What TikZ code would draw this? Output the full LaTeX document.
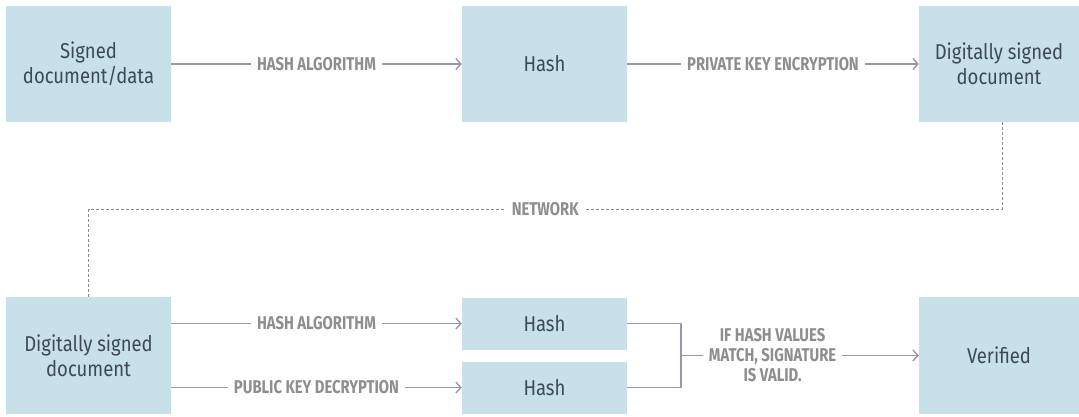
\documentclass[tikz,border=0pt]{standalone}
\usepackage{fontspec}
\setmainfont{Fira Sans}
\newfontfamily\boxfont[FakeStretch=0.86]{Fira Sans}
\newfontfamily\lblfont[FakeStretch=0.8]{Fira Sans}
\usetikzlibrary{arrows.meta}
\definecolor{boxblue}{HTML}{C8E0EA}
\definecolor{boxtext}{HTML}{3E4A52}
\definecolor{linkcol}{HTML}{9D93AC}
\definecolor{lblgray}{HTML}{8E8E8E}
\definecolor{netgray}{HTML}{8E8A96}
\begin{document}
\begin{tikzpicture}[x=1pt,y=-1pt,line join=round,line cap=butt,
	>={Straight Barb[length=5pt,width=11pt,line width=1.4pt]},
	blk/.style={fill=boxblue,text=boxtext,font=\boxfont\fontsize{21.5}{25}\selectfont,align=center,inner sep=0pt,minimum width=165pt,minimum height=116pt},
	lbl/.style={fill=white,text=lblgray,font=\lblfont\bfseries\fontsize{18.5}{20}\selectfont,align=center,inner xsep=6pt,inner ysep=1pt},
	link/.style={draw=linkcol,line width=1.8pt},
	netline/.style={draw=netgray,line width=0.8pt,dash pattern=on 3pt off 2pt}]
	\useasboundingbox (0,0) rectangle (1079,417);
	% sender
	\node[blk] (src) at (88.5,64) {Signed\\document/data};
	\node[blk] (hashA) at (544.5,64) {Hash};
	\node[blk,minimum width=160pt] (sent) at (999,64) {Digitally signed\\document};
	% receiver
	\node[blk,minimum height=117pt] (recv) at (88.5,355.5) {Digitally signed\\document};
	\node[blk,minimum height=52pt] (hashB) at (544.5,323.5) {Hash};
	\node[blk,minimum height=52pt] (hashC) at (544.5,387.5) {Hash};
	\node[blk,minimum width=160pt,minimum height=117pt] (ok) at (999,355.5) {Verified};
	\coordinate (netR) at (1002,209);
	\coordinate (jn) at (681,355.5);
	\draw[link,->] (src) -- node[lbl] {HASH ALGORITHM} (hashA);
	\draw[link,->] (hashA) -- node[lbl] {PRIVATE KEY ENCRYPTION} (sent);
	\draw[netline] (sent.south -| netR) -- (netR) -| node[pos=0.25,lbl] {NETWORK} (recv.north);
	\draw[link,->] (recv.east |- hashB) -- node[lbl] {HASH ALGORITHM} (hashB);
	\draw[link,->] (recv.east |- hashC) -- node[lbl] {PUBLIC KEY DECRYPTION} (hashC);
	\draw[link] (hashB.east) -| (jn) |- (hashC.east);
	\draw[link,->] (jn) -- node[pos=0.385,lbl] {IF HASH VALUES\\MATCH, SIGNATURE\\IS VALID.} (ok);
\end{tikzpicture}
\end{document}
